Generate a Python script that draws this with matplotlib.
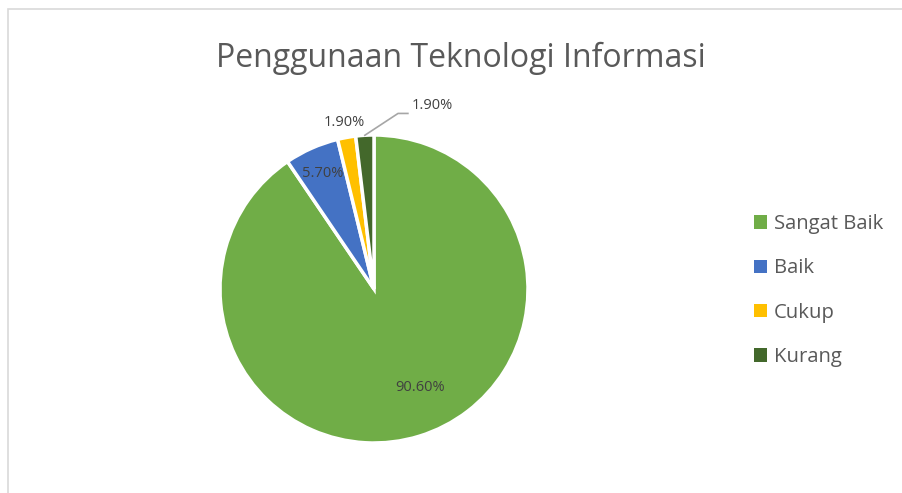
import matplotlib
matplotlib.use("Agg")
import matplotlib.pyplot as plt
from matplotlib.patches import Rectangle
import numpy as np

title = "Penggunaan Teknologi Informasi"
categories = ["Sangat Baik", "Baik", "Cukup", "Kurang"]
values = [90.6, 5.7, 1.9, 1.9]
labels = ["90.60%", "5.70%", "1.90%", "1.90%"]
colors = ["#70AD47", "#4472C4", "#FFC000", "#43682B"]

W, H = 902, 493
fig = plt.figure(figsize=(W / 100, H / 100), dpi=100)
plt.rcParams['font.family'] = ['Open Sans', 'DejaVu Sans']

# chart border
fig.add_artist(Rectangle((8 / W, -0.1), 1.2, (H - 9) / H + 0.1, transform=fig.transFigure,
                         fill=False, edgecolor="#d9d9d9", linewidth=1.2))

cx, cy, r = 374, 289, 154
ax = fig.add_axes([(cx - r) / W, (H - cy - r) / H, 2 * r / W, 2 * r / H])
wedges, _ = ax.pie(values, colors=colors, startangle=90, counterclock=False,
                   wedgeprops=dict(edgecolor="white", linewidth=2.5))
ax.set_xlim(-1, 1)
ax.set_ylim(-1, 1)
ax.set_aspect("equal")
ax.axis("off")

lab_col = "#404040"
fs = 10.5
for i, w in enumerate(wedges):
    ang = np.deg2rad((w.theta1 + w.theta2) / 2)
    c, s = np.cos(ang), np.sin(ang)
    if i == 0:
        x, y = 0.30, -0.64
        ax.text(x, y, labels[i], ha="center", va="center", fontsize=fs, color=lab_col)
    elif i == 1:
        ax.text(0.82 * c, 0.82 * s, labels[i], ha="center", va="center", fontsize=fs, color=lab_col)
    elif i == 2:
        ax.text(1.1 * c, 1.1 * s, labels[i], ha="center", va="center", fontsize=fs, color=lab_col)
    else:
        x0, y0 = 1.0 * c, 1.0 * s
        ax.plot([x0, 0.156, 0.22], [y0, 1.14, 1.14], color="#a6a6a6", lw=1.2, clip_on=False)
        ax.text(0.245, 1.19, labels[i], ha="left", va="center", fontsize=fs, color=lab_col)

fig.text(461 / W, 1 - 58 / H, title, ha="center", va="center", fontsize=23, color="#595959")

leg = fig.legend(wedges, categories, loc="upper left", bbox_to_anchor=(746 / W, 1 - 206 / H),
                 frameon=False, fontsize=14.6, labelcolor="#595959", handlelength=0.64,
                 handleheight=0.64, handletextpad=0.35, labelspacing=1.2, borderaxespad=0)
for h in leg.legend_handles:
    h.set_edgecolor("none")

fig.savefig("out.png", dpi=100)
